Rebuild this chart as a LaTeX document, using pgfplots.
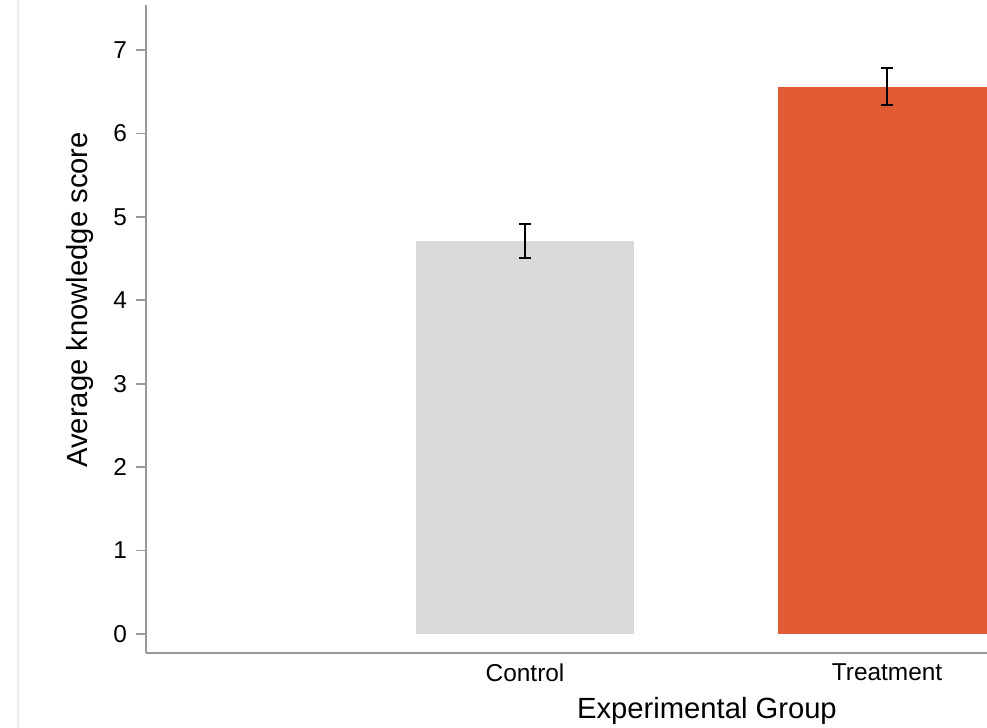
\documentclass[border=0pt]{standalone}
\usepackage{fontspec}
\setmainfont{Liberation Sans}
\usepackage{pgfplots}
\pgfplotsset{compat=1.18}
\definecolor{ctrl}{HTML}{D9D9D9}
\definecolor{treat}{HTML}{E05A33}
\definecolor{axgray}{HTML}{999999}
\begin{document}
\begin{tikzpicture}
\useasboundingbox (0,0) rectangle (493.5pt,364pt);
\fill[white] (0,0) rectangle (493.5pt,364pt);
\draw[gray!15, line width=0.8pt] (9pt,0) -- (9pt,364pt);
\begin{axis}[
  at={(73pt,37.5pt)}, anchor=south west,
  scale only axis, width=420.5pt, height=324pt,
  xmin=-0.047, xmax=2.276, ymin=-0.228, ymax=7.54,
  axis x line*=bottom, axis y line*=left,
  axis line style={draw=axgray, line width=0.9pt, -},
  xtick={1,2}, xticklabels={Control,Treatment},
  x tick style={draw=none},
  major x tick style={draw=none},
  ytick={0,1,2,3,4,5,6,7},
  y tick style={draw=axgray, line width=0.9pt},
  tick align=outside,
  major tick length=5pt,
  ticklabel style={font=\fontsize{12.2pt}{14pt}\selectfont},
  /pgf/number format/assume math mode=true,
  xticklabel style={yshift=3pt},
  yticklabel style={xshift=-1pt},
  xlabel={Experimental Group},
  ylabel={Average knowledge score},
  label style={font=\fontsize{14.6pt}{16pt}\selectfont},
  xlabel style={at={(axis description cs:0.667,-0.0895)}, anchor=center},
  ylabel style={at={(axis description cs:-0.0785,0.545)}, anchor=center},
  ybar, bar width=0.6, bar shift=0pt,
  clip=true,
]
\addplot[fill=ctrl, draw=none,
  error bars/.cd, y dir=both, y explicit,
  error bar style={black, line width=1.1pt},
  error mark options={rotate=90, mark size=3pt, line width=1.1pt, black}]
  coordinates {(1,4.71) +- (0,0.20)};
\addplot[fill=treat, draw=none,
  error bars/.cd, y dir=both, y explicit,
  error bar style={black, line width=1.1pt},
  error mark options={rotate=90, mark size=3pt, line width=1.1pt, black}]
  coordinates {(2,6.56) +- (0,0.22)};
\end{axis}
\end{tikzpicture}
\end{document}
